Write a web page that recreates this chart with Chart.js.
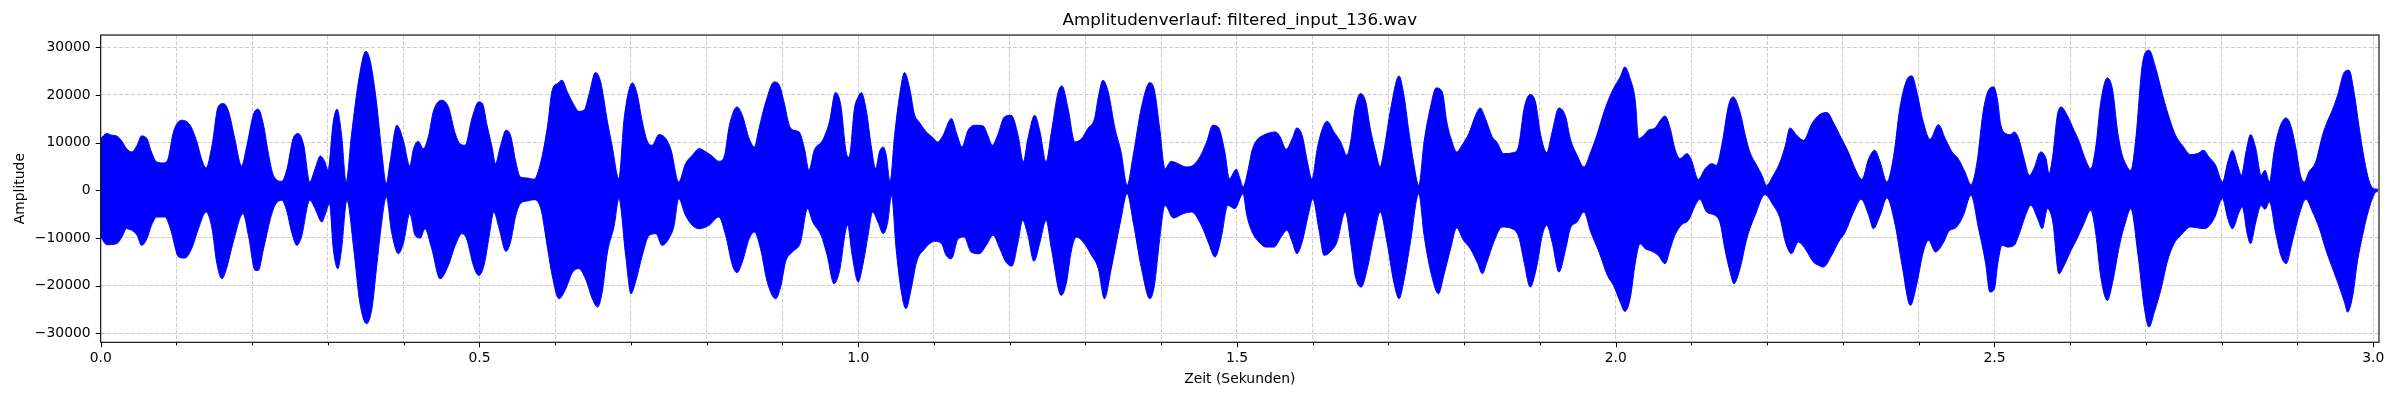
<!DOCTYPE html>
<html>
<head>
<meta charset="utf-8">
<title>Amplitudenverlauf</title>
<script src="https://cdn.jsdelivr.net/npm/chart.js@4.4.1/dist/chart.umd.min.js"></script>
<style>
  html, body { margin: 0; padding: 0; background: #fff; }
  canvas { display: block; }
</style>
</head>
<body>
<canvas id="waveChart" width="2400" height="400"></canvas>
<script>
// Envelope of the waveform: [time in s, amplitude]
const upperEnvelope = [
  [0.000,10850],[0.008,11900],[0.015,11550],[0.021,11410],[0.028,10290],[0.034,8750],[0.041,8050],[0.048,9450],
  [0.054,11410],[0.061,10850],[0.067,8050],[0.074,5950],[0.083,5740],[0.089,6650],[0.096,12250],[0.107,14700],
  [0.118,13650],[0.127,10150],[0.133,6650],[0.139,4690],[0.147,9450],[0.155,17500],[0.162,18200],[0.169,16450],
  [0.177,10850],[0.186,5110],[0.193,9450],[0.202,16100],[0.208,17010],[0.215,13650],[0.221,8050],[0.228,3150],
  [0.239,1890],[0.246,4550],[0.254,10850],[0.261,11900],[0.268,9450],[0.276,1750],[0.283,4550],[0.290,7210],
  [0.296,5950],[0.300,4200],[0.307,14350],[0.312,17010],[0.318,11550],[0.324,1750],[0.331,11550],[0.342,24500],
  [0.350,29190],[0.356,26950],[0.364,18550],[0.371,8050],[0.377,1400],[0.382,5950],[0.391,13650],[0.400,10150],
  [0.408,5110],[0.413,8750],[0.419,10290],[0.426,8750],[0.433,11550],[0.439,16450],[0.450,18900],[0.459,17500],
  [0.468,11900],[0.474,9800],[0.481,9450],[0.490,15050],
  [0.499,18550],[0.504,18200],[0.510,13650],[0.517,8750],[0.521,5600],[0.528,9450],[0.535,12600],[0.541,11550],
  [0.548,5950],[0.554,2800],[0.563,2590],[0.572,2310],[0.581,5950],[0.590,13650],[0.596,21000],[0.603,22400],
  [0.609,23100],[0.616,20650],[0.625,17850],[0.631,16590],[0.638,16800],[0.645,20300],[0.653,24710],[0.660,22750],
  [0.669,14350],[0.675,9450],[0.684,2450],[0.691,15050],[0.702,22540],[0.708,20300],[0.715,14350],[0.722,10150],
  [0.728,9450],[0.737,11690],[0.746,10850],[0.753,8400],[0.763,1750],[0.772,5600],[0.781,7350],[0.790,8750],
  [0.799,8050],[0.807,7210],[0.816,6090],[0.823,7000],[0.830,13650],[0.840,17500],[0.847,15750],[0.856,10850],
  [0.863,9100],[0.869,12950],[0.878,18550],[0.889,22750],[0.896,22050],[0.902,18550],[0.909,13650],[0.915,12600],
  [0.922,12250],[0.929,8750],[0.935,4200],[0.942,8400],[0.953,10500],[0.962,14350],[0.970,20510],[0.977,17850],
  [0.984,8050],[0.988,7000],[0.995,17150],
  [1.000,19600],[1.004,20510],[1.011,16450],[1.017,9450],[1.023,4550],[1.028,8050],[1.033,9100],[1.037,7350],
  [1.042,1750],[1.048,11550],[1.055,20300],[1.061,24710],[1.068,21350],[1.074,16100],[1.081,14210],[1.090,12250],
  [1.099,10990],[1.105,10150],[1.112,11550],[1.123,15050],[1.130,11900],[1.137,9100],[1.145,12600],[1.154,13650],
  [1.165,13510],[1.171,11550],[1.177,9450],[1.184,11550],[1.193,15400],[1.202,15750],[1.211,11550],[1.218,5950],
  [1.224,10850],[1.233,15750],[1.240,12250],[1.248,5950],[1.255,12250],[1.264,20650],[1.269,21910],[1.277,17150],
  [1.286,10150],[1.295,10850],[1.303,12950],[1.312,15050],[1.317,19600],[1.323,23100],[1.330,20650],[1.339,12950],
  [1.347,8050],[1.355,1050],[1.363,7350],[1.374,17500],[1.385,22610],[1.391,21000],[1.398,12950],[1.405,4550],
  [1.413,6090],[1.422,5600],[1.433,4900],[1.442,5250],[1.451,7000],[1.460,10150],[1.468,13650],[1.475,13300],
  [1.484,8050],[1.490,2450],[1.499,4410],
  [1.504,2450],[1.508,700],[1.515,4550],[1.520,8400],[1.526,10500],[1.535,11550],[1.544,12110],[1.551,12250],
  [1.557,11200],[1.565,8610],[1.573,10850],[1.579,13090],[1.586,11550],[1.593,5950],[1.599,2310],[1.606,8750],
  [1.612,12600],[1.619,14490],[1.628,12250],[1.637,10150],[1.645,7350],[1.650,10150],[1.656,17150],[1.663,20300],
  [1.670,18550],[1.676,12950],[1.683,8050],[1.689,4900],[1.694,8400],[1.703,17150],[1.714,24010],[1.720,20300],
  [1.727,12250],[1.733,5950],[1.740,1050],[1.747,10150],[1.755,17150],[1.763,21490],[1.771,20650],[1.777,14350],
  [1.784,10150],[1.790,8050],[1.797,9450],[1.806,11900],[1.815,15750],[1.821,17290],[1.828,15050],[1.837,11200],
  [1.843,10150],[1.852,7700],[1.865,7910],[1.872,9450],[1.879,17150],[1.887,20090],[1.894,18550],[1.901,11550],
  [1.909,7910],[1.916,12250],[1.925,17290],[1.934,15400],[1.940,10850],[1.949,7350],[1.958,4900],[1.967,8050],
  [1.975,11550],[1.986,17150],[1.997,21350],
  [2.006,23800],[2.012,25900],[2.019,23450],[2.026,18550],[2.030,10850],[2.037,11550],[2.043,12600],[2.052,13090],
  [2.059,14700],[2.065,15610],[2.072,12950],[2.078,8750],[2.085,6650],[2.094,7700],[2.100,6300],[2.109,2310],
  [2.118,4550],[2.127,5600],[2.133,5250],[2.140,9450],[2.149,17850],[2.155,19600],[2.164,16450],[2.171,11550],
  [2.177,8050],[2.186,5250],[2.193,3150],[2.199,1050],[2.208,3150],[2.217,5950],[2.224,9450],[2.230,13090],
  [2.239,11550],[2.248,10500],[2.259,14000],[2.268,15750],[2.279,16310],[2.287,14350],[2.298,10850],[2.307,8050],
  [2.316,4550],[2.325,2310],[2.334,6650],[2.342,8400],[2.349,5950],[2.358,1750],[2.367,7350],[2.375,17150],
  [2.384,23100],[2.391,24010],[2.397,21000],[2.406,14350],[2.415,10710],[2.426,13790],[2.435,10850],[2.444,8050],
  [2.452,6650],[2.461,3850],[2.469,1190],[2.477,5950],[2.485,16450],[2.492,21000],[2.499,21700],
  [2.504,18900],[2.508,14000],[2.515,11900],[2.521,11690],[2.526,12250],[2.532,10850],[2.539,6650],[2.546,3150],
  [2.552,4550],[2.561,8050],[2.568,6650],[2.572,3500],[2.577,7350],[2.583,15750],[2.588,17500],[2.596,15750],
  [2.605,12600],[2.612,10150],[2.618,7350],[2.627,4550],[2.634,9450],[2.640,18200],[2.649,23590],[2.656,21000],
  [2.662,12950],[2.667,8400],[2.673,5600],[2.680,4200],[2.687,11550],[2.695,26250],[2.704,29400],[2.713,25550],
  [2.722,19950],[2.731,15050],[2.739,11550],[2.748,9450],[2.759,7490],[2.768,7700],[2.776,8400],[2.783,7000],
  [2.792,5250],[2.801,1750],[2.808,5950],[2.814,8400],[2.821,5250],[2.826,3150],[2.832,8050],[2.838,11690],
  [2.845,8750],[2.852,3150],[2.857,4200],[2.863,1750],[2.869,8050],[2.876,12950],[2.885,15190],[2.891,13650],
  [2.898,8750],[2.904,3150],[2.909,1750],[2.915,3850],[2.924,5950],[2.933,11550],[2.940,14700],[2.946,16800],
  [2.953,19950],[2.962,24850],[2.968,25200],[2.975,20300],[2.981,13650],[2.988,6650],[2.995,1750],[3.001,210],
  [3.006,0]
];

const lowerEnvelope = [
  [0.000,-9800],[0.008,-11410],[0.021,-11200],[0.028,-9800],[0.034,-8050],[0.041,-8400],[0.048,-9450],[0.054,-11550],
  [0.061,-10150],[0.067,-7350],[0.074,-5600],[0.085,-5600],[0.092,-8050],[0.103,-14000],[0.111,-14210],[0.120,-12250],
  [0.129,-8050],[0.139,-4550],[0.147,-8050],[0.153,-15050],[0.160,-18550],[0.166,-16450],[0.175,-10850],[0.188,-4900],
  [0.195,-9450],[0.204,-16800],[0.208,-16800],[0.215,-12250],[0.224,-5950],[0.230,-3150],[0.239,-2100],[0.246,-4550],
  [0.252,-8750],[0.259,-11550],[0.265,-9800],[0.276,-2100],[0.283,-3850],[0.292,-6650],[0.296,-5250],[0.302,-2800],
  [0.307,-12250],[0.313,-16450],[0.318,-12250],[0.325,-2100],[0.334,-12250],[0.342,-23450],[0.351,-28000],[0.358,-24850],
  [0.364,-16450],[0.371,-6650],[0.377,-1400],[0.384,-8750],[0.393,-13300],[0.400,-10850],[0.408,-4900],[0.415,-9450],
  [0.422,-10010],[0.428,-8050],[0.437,-12250],[0.448,-18550],[0.459,-15750],[0.468,-11550],[0.477,-9100],[0.483,-10150],
  [0.492,-15750],
  [0.499,-17850],[0.506,-15750],[0.513,-9450],[0.519,-4550],[0.526,-8050],[0.535,-12810],[0.541,-10850],[0.548,-5250],
  [0.554,-2800],[0.563,-2240],[0.572,-1960],[0.581,-3850],[0.590,-12250],[0.596,-17850],[0.605,-22750],[0.614,-20650],
  [0.623,-17150],[0.631,-16450],[0.640,-18550],[0.649,-22750],[0.656,-24500],[0.662,-21350],[0.669,-12950],[0.678,-7350],
  [0.684,-1750],[0.693,-13650],[0.700,-21700],[0.706,-19250],[0.715,-13650],[0.724,-9450],[0.733,-9100],[0.741,-11550],
  [0.750,-10150],[0.757,-7350],[0.763,-1750],[0.772,-5250],[0.781,-7350],[0.790,-8050],[0.803,-7350],[0.816,-5600],
  [0.825,-9450],[0.834,-15750],[0.840,-17290],[0.847,-15050],[0.856,-10150],[0.863,-8750],[0.871,-12250],[0.880,-19250],
  [0.891,-22750],[0.898,-19950],[0.904,-15050],[0.913,-12950],[0.924,-10850],[0.933,-3850],[0.940,-6650],[0.951,-9450],
  [0.959,-13650],[0.968,-19600],[0.975,-17150],[0.986,-7350],[0.992,-13650],
  [1.000,-19250],[1.006,-15750],[1.013,-9450],[1.019,-4550],[1.026,-6650],[1.033,-9100],[1.039,-6650],[1.044,-1050],
  [1.050,-12250],[1.057,-21350],[1.063,-24850],[1.070,-20650],[1.077,-15050],[1.088,-12250],[1.101,-10710],[1.110,-11200],
  [1.116,-13650],[1.123,-14350],[1.132,-10150],[1.140,-9800],[1.149,-12950],[1.160,-13300],[1.169,-11550],[1.178,-9450],
  [1.187,-12250],[1.195,-15050],[1.203,-15890],[1.211,-10850],[1.217,-6300],[1.224,-9450],[1.232,-14910],[1.240,-10850],
  [1.248,-6300],[1.255,-12250],[1.268,-22050],[1.275,-19250],[1.281,-12950],[1.288,-9800],[1.297,-10850],[1.308,-13650],
  [1.317,-16450],[1.325,-22750],[1.334,-16450],[1.347,-5950],[1.355,-700],[1.363,-6650],[1.374,-16450],[1.385,-22750],
  [1.391,-19950],[1.398,-10150],[1.405,-3150],[1.416,-5810],[1.429,-4900],[1.440,-4550],[1.453,-7350],[1.462,-10850],
  [1.471,-14000],[1.479,-10150],[1.488,-3150],[1.497,-3850],
  [1.508,-700],[1.513,-5250],[1.520,-8750],[1.529,-10850],[1.538,-11900],[1.549,-11900],[1.557,-10150],[1.566,-8400],
  [1.573,-10850],[1.579,-13300],[1.586,-10850],[1.595,-4550],[1.600,-1750],[1.608,-8050],[1.615,-13650],[1.623,-12950],
  [1.632,-10850],[1.643,-4550],[1.650,-10850],[1.656,-17850],[1.664,-20300],[1.672,-16450],[1.681,-9450],[1.689,-4550],
  [1.698,-10850],[1.707,-19250],[1.714,-22750],[1.720,-19250],[1.729,-10850],[1.740,-700],[1.747,-9450],[1.758,-18550],
  [1.766,-21700],[1.773,-17850],[1.782,-12250],[1.790,-7910],[1.799,-10500],[1.808,-12250],[1.817,-15050],[1.824,-17500],
  [1.830,-15050],[1.839,-10850],[1.850,-7700],[1.863,-8050],[1.872,-9800],[1.879,-15050],[1.887,-20300],[1.896,-15750],
  [1.903,-9450],[1.909,-7350],[1.916,-10850],[1.925,-17150],[1.934,-12250],[1.940,-8050],[1.949,-6650],[1.958,-4550],
  [1.967,-8750],[1.978,-12950],[1.989,-17850],[1.997,-19950],
  [2.006,-23450],[2.012,-25410],[2.019,-22750],[2.026,-15050],[2.032,-11200],[2.039,-12250],[2.048,-12810],[2.056,-13650],
  [2.065,-15400],[2.072,-12250],[2.078,-9450],[2.087,-7210],[2.096,-6300],[2.105,-3150],[2.111,-1890],[2.120,-4550],
  [2.131,-5250],[2.138,-7000],[2.144,-12250],[2.151,-17150],[2.156,-19600],[2.164,-16450],[2.173,-10150],[2.184,-5250],
  [2.197,-910],[2.208,-3150],[2.217,-5950],[2.224,-10850],[2.232,-13300],[2.241,-10850],[2.250,-12250],[2.261,-15050],
  [2.268,-15750],[2.274,-16100],[2.285,-13650],[2.294,-10850],[2.303,-8750],[2.314,-4550],[2.324,-1890],[2.334,-5250],
  [2.340,-8050],[2.349,-5250],[2.358,-1610],[2.369,-7350],[2.378,-15750],[2.389,-24150],[2.397,-19950],[2.406,-12950],
  [2.413,-10500],[2.422,-12950],[2.433,-10850],[2.439,-8750],[2.450,-7700],[2.459,-5250],[2.469,-1050],[2.479,-8050],
  [2.488,-15050],[2.494,-21350],
  [2.500,-20650],[2.504,-15750],[2.510,-11550],[2.517,-11900],[2.526,-11550],[2.532,-9450],[2.541,-5250],[2.548,-3150],
  [2.557,-5950],[2.563,-8050],[2.570,-3850],[2.577,-6650],[2.585,-17500],[2.592,-15750],[2.601,-12600],[2.609,-10150],
  [2.618,-7000],[2.627,-4200],[2.634,-9450],[2.640,-17850],[2.649,-23100],[2.656,-19250],[2.665,-11550],[2.673,-6650],
  [2.680,-3850],[2.689,-12950],[2.698,-24850],[2.704,-28700],[2.711,-25550],[2.720,-20650],[2.728,-15050],[2.737,-11200],
  [2.746,-9450],[2.759,-7700],[2.777,-8050],[2.790,-5950],[2.801,-1750],[2.808,-5950],[2.814,-8050],[2.823,-4550],
  [2.827,-3500],[2.834,-9450],[2.838,-11200],[2.845,-6650],[2.852,-3150],[2.857,-3990],[2.863,-2450],[2.871,-8750],
  [2.878,-13650],[2.885,-15400],[2.893,-10850],[2.902,-5250],[2.911,-1890],[2.920,-4550],[2.929,-8050],[2.937,-12250],
  [2.944,-15400],[2.953,-19250],[2.962,-23450],[2.966,-25550],[2.973,-22050],[2.979,-15050],[2.986,-9450],[2.992,-5250],
  [3.001,-910],[3.006,0]
];

// Axis ticks
const xTicks = [0.0, 0.1, 0.2, 0.3, 0.4, 0.5, 0.6, 0.7, 0.8, 0.9, 1.0, 1.1, 1.2, 1.3, 1.4, 1.5,
  1.6, 1.7, 1.8, 1.9, 2.0, 2.1, 2.2, 2.3, 2.4, 2.5, 2.6, 2.7, 2.8, 2.9, 3.0];
const xMajorTicks = [0.0, 0.5, 1.0, 1.5, 2.0, 2.5, 3.0];
const yTicks = [-30000, -20000, -10000, 0, 10000, 20000, 30000];

const xRange = [0, 3.0076];
const yRange = [-31890, 32580];

function isMajorX(v) {
  return xMajorTicks.some(m => Math.abs(m - v) < 1e-6);
}

function toPoints(pairs) {
  return pairs.map(p => ({ x: p[0], y: p[1] }));
}

// frame on all four sides plus matplotlib-like tick marks (long major, short minor)
const frameAndTicks = {
  id: "frameAndTicks",
  afterDraw(chart) {
    const { ctx, chartArea: a, scales } = chart;
    ctx.save();
    ctx.strokeStyle = "#000";
    ctx.lineWidth = 1;
    ctx.beginPath();
    scales.x.ticks.forEach(t => {
      const px = Math.round(scales.x.getPixelForValue(t.value)) + 0.5;
      const len = isMajorX(t.value) ? 5 : 3;
      ctx.moveTo(px, a.bottom);
      ctx.lineTo(px, a.bottom + len);
    });
    scales.y.ticks.forEach(t => {
      const py = Math.round(scales.y.getPixelForValue(t.value)) + 0.5;
      ctx.moveTo(a.left, py);
      ctx.lineTo(a.left - 5, py);
    });
    ctx.stroke();
    ctx.lineWidth = 1.1;
    ctx.strokeRect(a.left, a.top, a.right - a.left, a.bottom - a.top);
    ctx.restore();
  }
};

Chart.defaults.font.family = "'DejaVu Sans', sans-serif";
Chart.defaults.font.size = 13.9;
Chart.defaults.color = "#000";

// both halves fill a little past zero so no seam shows along the zero line
new Chart(document.getElementById("waveChart").getContext("2d"), {
  type: "line",
  data: {
    datasets: [
      {
        label: "upper",
        data: toPoints(upperEnvelope),
        borderColor: "#0000ff",
        backgroundColor: "#0000ff",
        borderWidth: 1,
        pointRadius: 0,
        fill: { value: -400 },
        cubicInterpolationMode: "monotone"
      },
      {
        label: "lower",
        data: toPoints(lowerEnvelope),
        borderColor: "#0000ff",
        backgroundColor: "#0000ff",
        borderWidth: 1,
        pointRadius: 0,
        fill: { value: 400 },
        cubicInterpolationMode: "monotone"
      }
    ]
  },
  options: {
    responsive: false,
    devicePixelRatio: 1,
    animation: false,
    events: [],
    layout: {
      padding: { left: 0, right: 21, top: 0, bottom: 0 }
    },
    plugins: {
      legend: { display: false },
      tooltip: { enabled: false },
      title: {
        display: true,
        text: "Amplitudenverlauf: filtered_input_136.wav",
        fullSize: false,
        font: { size: 16.7, weight: "normal" },
        color: "#000",
        padding: { top: 11, bottom: 4 }
      }
    },
    scales: {
      x: {
        type: "linear",
        min: xRange[0],
        max: xRange[1],
        afterBuildTicks: scale => {
          scale.ticks = xTicks.map(v => ({ value: v }));
        },
        afterFit: scale => {
          scale.height = 57.7;
        },
        grid: {
          color: "#cccccc",
          lineWidth: 1,
          drawTicks: false
        },
        border: { display: false, dash: [4, 2] },
        ticks: {
          autoSkip: false,
          maxRotation: 0,
          minRotation: 0,
          padding: 8,
          callback: v => (isMajorX(v) ? v.toFixed(1) : "")
        },
        title: {
          display: true,
          text: "Zeit (Sekunden)",
          font: { size: 13.9 },
          padding: { top: 12, bottom: 12 }
        }
      },
      y: {
        type: "linear",
        min: yRange[0],
        max: yRange[1],
        afterBuildTicks: scale => {
          scale.ticks = yTicks.map(v => ({ value: v }));
        },
        afterFit: scale => {
          scale.width = 100.7;
        },
        grid: {
          color: "#cccccc",
          lineWidth: 1,
          drawTicks: false
        },
        border: { display: false, dash: [4, 2] },
        ticks: {
          padding: 10,
          callback: v => (v < 0 ? "\u2212" + Math.abs(v) : String(v))
        },
        title: {
          display: true,
          text: "Amplitude",
          font: { size: 13.9 },
          padding: { top: 12, bottom: 12 }
        }
      }
    }
  },
  plugins: [frameAndTicks]
});
</script>
</body>
</html>
